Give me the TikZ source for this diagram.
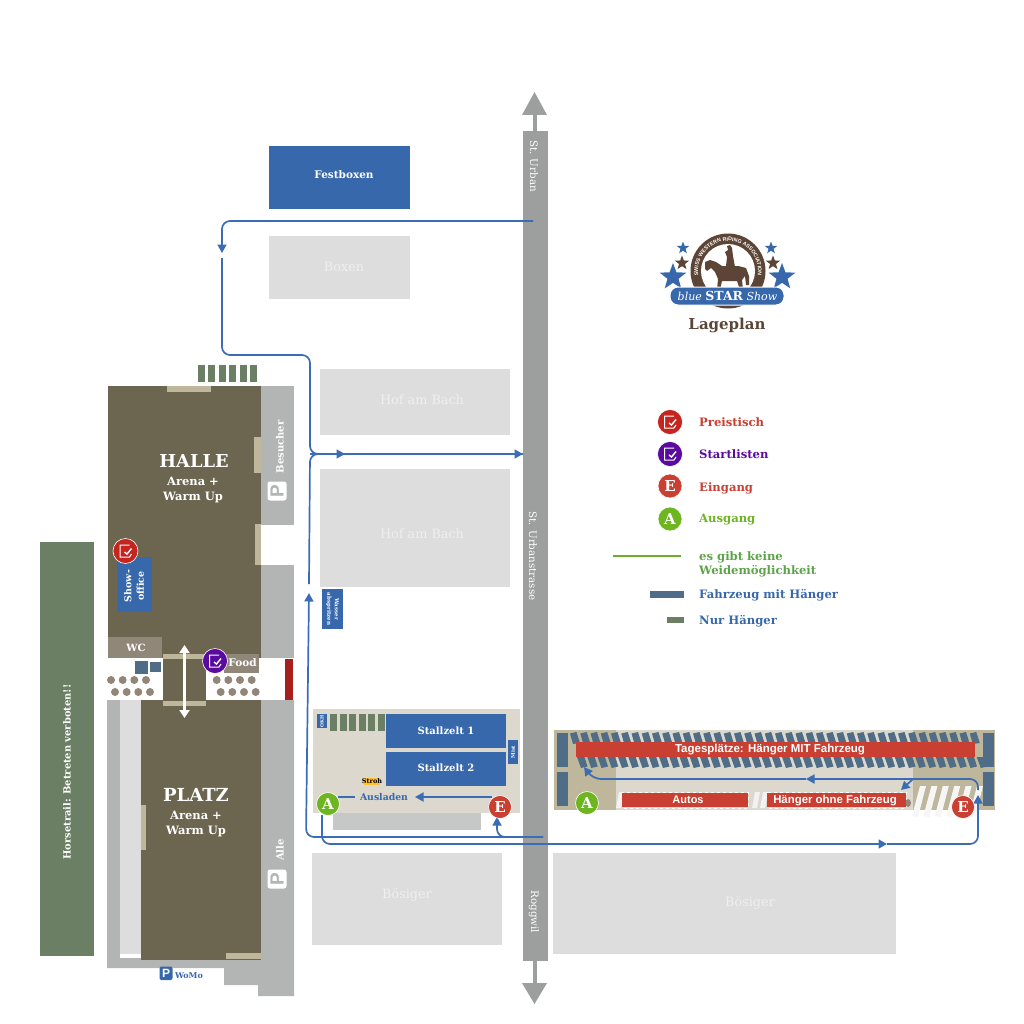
\documentclass[tikz,border=0pt]{standalone}
\usepackage{fontspec}
\usetikzlibrary{arrows.meta,shapes.geometric,decorations.text}
\setmainfont{DejaVu Serif}
\setsansfont{Liberation Sans}
\definecolor{cblue}{HTML}{3768AB}
\definecolor{cpale}{HTML}{DCDDDC}
\definecolor{cpaletxt}{HTML}{EEEFEE}
\definecolor{cbrown}{HTML}{6C6650}
\definecolor{cgray}{HTML}{B3B4B4}
\definecolor{croad}{HTML}{9D9E9E}
\definecolor{cbeige}{HTML}{BFB79B}
\definecolor{csand}{HTML}{DCD8CE}
\definecolor{ctaupe}{HTML}{918779}
\definecolor{cslate}{HTML}{4F6D86}
\definecolor{cgreen}{HTML}{6B7F64}
\definecolor{cred}{HTML}{C93F31}
\definecolor{cdred}{HTML}{C4251F}
\definecolor{cpurple}{HTML}{5B0A9E}
\definecolor{clime}{HTML}{6EB522}
\definecolor{cleg}{HTML}{5DA34A}
\definecolor{cdark}{HTML}{5C4536}
\definecolor{cline}{HTML}{3B6DB5}
\tikzset{
  route/.style={draw=cline,line width=1.7pt,rounded corners=8pt},
  tip/.style={-{Triangle[length=8.5pt,width=9pt]}},
  lab/.style={inner sep=0pt,align=center,font=\bfseries},
  wlab/.style={lab,text=white},
  pale/.style={text=cpaletxt,font=\normalfont},
  badge/.style={circle,inner sep=0pt,draw=white,line width=.6pt,text=white,font=\bfseries,minimum size=#1},
  leg/.style={anchor=west,inner sep=0pt,font=\bfseries\fontsize{11.6}{14.5}\selectfont,align=left},
  roadlab/.style={rotate=-90,text=white,font=\fontsize{10.3}{11}\selectfont},
}
\newcommand\bx[5]{\fill[#5] (#1,#2) rectangle (#3,#4);}
\newcommand\fs[1]{\fontsize{#1}{#1}\selectfont}
\newcommand\chk[2]{\begin{scope}[shift={(#1,#2)}]
 \draw[white,line width=1pt] (4,-6) -- (-5.5,-6) -- (-5.5,6) -- (4,6) -- (6,3);
 \draw[white,line width=1.4pt] (-1,1) -- (1.5,3) -- (6,-2.5);
 \end{scope}}
\newcommand\pk[2]{\fill[white,rounded corners=2.5pt] (#1-9.5,#2-9.5) rectangle (#1+9.5,#2+9.5);
 \node[rotate=90,text=cgray,inner sep=0pt,font=\sffamily\bfseries\fs{19}] at (#1,#2) {P};}
\begin{document}
\begin{tikzpicture}[x=1pt,y=-1pt]
\useasboundingbox (0,0) rectangle (1024,1024);
% road
\fill[croad] (523,131) rectangle (548,961);
\fill[croad] (533,115) rectangle (537,131);
\fill[croad] (533,961) rectangle (537,983);
\fill[croad] (522,115) -- (534.5,92) -- (547,115) -- cycle;
\fill[croad] (522,983) -- (534.5,1004) -- (547,983) -- cycle;
\node[roadlab] (t1) at (534,166) {St. Urban};
\node[roadlab] (t2) at (533,556) {St. Urbanstrasse};
\node[roadlab] (t3) at (534,912) {Roggwil};
% buildings right
\bx{269}{146}{410}{209}{cblue}
\bx{269}{236}{410}{299}{cpale}
\bx{320}{369}{510}{435}{cpale}
\bx{320}{469}{510}{587}{cpale}
\bx{312}{853}{502}{945}{cpale}
\bx{553}{853}{896}{954}{cpale}
\node[wlab,font=\bfseries\fs{10.5}] (n1) at (344,175) {Festboxen};
\node[pale,font=\fs{12.8}] (n2) at (344,267) {Boxen};
\node[pale,font=\fs{12.8}] (n3) at (422,400) {Hof am Bach};
\node[pale,font=\fs{12.8}] (n4) at (422,534) {Hof am Bach};
\node[pale,font=\fs{12.8}] (n5) at (407,895) {Bösiger};
\node[pale,font=\fs{12.8}] (n6) at (750,903) {Bösiger};
% horsetrail
\bx{40}{542}{94}{956}{cgreen}
\node[rotate=90,wlab,font=\bfseries\fs{9.9}] (n7) at (67,772) {Horsetrail: Betreten verboten!!};
% gray yards
\fill[cgray] (261,386) rectangle (294,525);
\fill[cgray] (261,565) rectangle (294,658);
\fill[cgray] (107,700) -- (141,700) -- (141,958) -- (261,958) -- (261,700) -- (294,700) -- (294,996) -- (258,996) -- (258,985) -- (224,985) -- (224,968) -- (107,968) -- cycle;
\bx{120}{700}{141}{958}{cpale}
\bx{120}{954}{141}{958}{white}
% halls
\bx{108}{386}{261}{658}{cbrown}
\bx{141}{700}{261}{960}{cbrown}
\bx{163}{654}{206}{706}{cbrown}
% beige
\bx{167}{386}{211}{392}{cbeige}
\bx{254}{437}{261}{473}{cbeige}
\bx{255}{524}{261}{565}{cbeige}
\bx{163}{654}{206}{659}{cbeige}
\bx{163}{701}{206}{706}{cbeige}
\bx{141}{805}{146}{850}{cbeige}
\bx{226}{953}{261}{959}{cbeige}
\bx{285}{659}{293}{700}{cdred!85!black}
% hall bars
\foreach \i in {0,...,5} \fill[cgreen] (198+10.4*\i,365) rectangle ++(7,17);
% hall texts
\node[wlab,font=\bfseries\fs{17.8}] (h1) at (194,461) {HALLE};
\node[wlab,font=\bfseries\fs{11.5}] (h2) at (193,481) {Arena +};
\node[wlab,font=\bfseries\fs{11.5}] (h3) at (193,497) {Warm Up};
\node[wlab,font=\bfseries\fs{18}] (p1) at (196,795) {PLATZ};
\node[wlab,font=\bfseries\fs{11.5}] (p2) at (196,815) {Arena +};
\node[wlab,font=\bfseries\fs{11.5}] (p3) at (196,831) {Warm Up};
\node[rotate=90,text=white,font=\bfseries\fs{10}] (b1) at (280,447) {Besucher};
\pk{277}{491}
\node[rotate=90,text=white,font=\bfseries\fs{10}] (b2) at (280,850) {Alle};
\pk{277}{879}
% show office
\bx{117}{557}{152}{612}{cblue}
\node[rotate=90,wlab,font=\bfseries\fs{9.5},align=center] (so) at (134,586) {Show-\\[3pt]office};
\node[badge=25pt,fill=cdred] (i1) at (125.5,551) {};
\chk{125.5}{551}
% WC area
\bx{108}{637}{162}{658}{ctaupe}
\node[wlab,font=\bfseries\fs{10}] (wc) at (136,647.5) {WC};
\bx{135}{661}{148}{674}{cslate}
\bx{150}{662}{161}{672}{cslate}
\bx{224}{654}{259}{673}{ctaupe}
\node[wlab,font=\bfseries\fs{10.5}] (fd) at (242.5,663) {Food};
\foreach \x in {111,122.7,134.3,146} \fill[ctaupe] (\x,680) circle (4);
\foreach \x in {115,126.7,138.3,150} \fill[ctaupe] (\x,692) circle (4);
\foreach \x in {216.7,228.3,240,251.7} \fill[ctaupe] (\x,680) circle (4);
\foreach \x in {220.7,232.3,244,255.7} \fill[ctaupe] (\x,692) circle (4);
\node[badge=25pt,fill=cpurple] (i2) at (215,661) {};
\chk{215}{661}
\coordinate (d1) at (184.5,645);
\coordinate (d2) at (184.5,718);
\draw[white,line width=2.2pt,{Triangle[length=8pt,width=10pt]}-{Triangle[length=8pt,width=10pt]}] (d1) -- (d2);
% WoMo
\fill[cblue,rounded corners=2pt] (159.5,966.5) rectangle (172.5,980);
\node[text=white,font=\sffamily\bfseries\fs{12}] (wp) at (166,973) {P};
\node[text=cblue,font=\bfseries\fs{8}] (wm) at (189,975.5) {WoMo};
% Wasser
\bx{322}{589}{343}{629}{cblue}
\node[rotate=-90,wlab,font=\bfseries\fs{5.5},align=center] (wa) at (332.5,609) {Wasser\\[2pt]abspritzen};
% Stall area
\bx{313}{709}{520}{813}{csand}
\bx{333}{813}{481}{830}{cgray!75!white}
\bx{386}{714}{506}{748}{cblue}
\bx{386}{752}{506}{786}{cblue}
\node[wlab,font=\bfseries\fs{10}] (s1) at (446,731) {Stallzelt 1};
\node[wlab,font=\bfseries\fs{10}] (s2) at (446,768) {Stallzelt 2};
\bx{508}{740}{518}{764}{cblue}
\node[rotate=90,wlab,font=\bfseries\fs{5}] (mi) at (513,752) {Mist};
\bx{317}{714}{327}{728}{cblue}
\node[rotate=90,wlab,font=\bfseries\fs{4.5}] (ok) at (322,721) {OKH};
\foreach \i in {0,...,5} \fill[cgreen] (330+9.6*\i,714) rectangle ++(7,17);
\bx{364}{778}{380}{785}{orange!60!yellow!80!white}
\node[text=black,font=\bfseries\fs{6.5}] (st) at (372,781.5) {Stroh};
\node[text=cblue,font=\bfseries\fs{9.3}] (au) at (384,797.5) {Ausladen};
% Tagesplaetze
\bx{554}{730}{995}{810}{csand}
\bx{554}{730}{616}{810}{cbeige}
\bx{913}{730}{995}{810}{cbeige}
\bx{557}{733}{568}{767}{cslate}
\bx{557}{772}{568}{806}{cslate}
\bx{983}{733}{994}{767}{cslate}
\bx{983}{772}{994}{806}{cslate}
\foreach \i in {0,...,39} {
 \fill[cslate] (570+10.25*\i,733.5) -- ++(6.5,-1.5) -- ++(3.5,11) -- ++(-7,1) -- cycle;
 \fill[cslate] (577+10.25*\i,757) -- ++(7.5,0) -- ++(3,9.5) -- ++(-6.5,1.5) -- cycle;
}
\bx{576}{742}{975}{757}{cred}
\node[text=white,font=\sffamily\bfseries\fs{11.5}] (tg) at (770,749.5) {Tagesplätze: Hänger MIT Fahrzeug};
\foreach \x in {616,752,760} \fill[white!90!gray] (\x,808) -- ++(3,-16) -- ++(5,0) -- ++(-3,16) -- cycle;
\foreach \i in {0,...,5} \fill[white!93!gray] (912+11.4*\i,816) -- ++(8,-30) -- ++(6,0) -- ++(-8,31) -- cycle;
\draw[white,dashed,line width=.6pt] (622,792) rectangle (748,808);
\draw[white,dashed,line width=.6pt] (767,792) rectangle (906,808);
\fill[ctaupe] (908,803) ellipse (3 and 4);
\bx{622}{793}{748}{807}{cred}
\bx{767}{793}{906}{807}{cred}
\node[text=white,font=\sffamily\bfseries\fs{11}] (at) at (688,800) {Autos};
\node[text=white,font=\sffamily\bfseries\fs{11.4}] (hg) at (835,800.5) {Hänger ohne Fahrzeug};
% routes
\coordinate (r0) at (533,221);
\coordinate (r1) at (222,253);
\coordinate (r2) at (222,258);
\coordinate (c1) at (310,355);
\coordinate (c2) at (310,454);
\coordinate (r3) at (345,454);
\coordinate (r4) at (523,454);
\coordinate (r5) at (309,593);
\coordinate (r5b) at (309,584);
\coordinate (c3) at (306,837);
\coordinate (r6) at (543,837);
\coordinate (r7) at (497,817);
\coordinate (r8) at (322,815);
\coordinate (c4) at (322,844);
\coordinate (r9) at (887,844);
\coordinate (c5) at (978,844);
\coordinate (r10) at (978,795);
\coordinate (r11) at (978,790);
\coordinate (c6) at (978,779);
\coordinate (r12) at (806,779);
\coordinate (c7) at (593,779);
\coordinate (r13) at (584,767);
\coordinate (r14) at (901,790);
\coordinate (r15) at (913,779);
\coordinate (r16) at (492,797);
\coordinate (r17) at (415,797);
\coordinate (r18) at (338,797);
\coordinate (r19) at (355,797);
\draw[route,tip] (r0) -| (r1);
\draw[route,tip] (r2) |- (c1) -- (c2) -- (r4);
\draw[route] (r5b) -- (c2) -- (r4);
\draw[cline,line width=1.7pt,tip] (c2) -- (r3);
\draw[route,tip] (r6) -- (c3) -- (r5);
\draw[route,tip] (r6) -| (r7);
\draw[route,tip] (r8) -- (c4) -- (r9);
\draw[route,tip] (r9) -- (c5) -- (r10);
\draw[route,tip] (r11) -- (c6) -- (r12);
\draw[route,tip] (r12) -- (c7) -- (r13);
\draw[route,tip,rounded corners=4pt] (r15) -- (r14);
\draw[route,tip] (r16) -- (r17);
\draw[route] (r18) -- (r19);
% badges
\node[badge=23pt,fill=clime,font=\bfseries\fs{15}] (a1) at (328,804) {A};
\node[badge=23pt,fill=cred,font=\bfseries\fs{15}] (e1) at (500,807) {E};
\node[badge=23pt,fill=clime,font=\bfseries\fs{15}] (a2) at (587,803) {A};
\node[badge=23pt,fill=cred,font=\bfseries\fs{15}] (e2) at (963,807) {E};
% legend
\node[badge=25pt,fill=cdred] (l1) at (670,422) {};
\chk{670}{422}
\node[badge=25pt,fill=cpurple] (l2) at (670,454) {};
\chk{670}{454}
\node[badge=24pt,fill=cred,font=\bfseries\fs{15}] (l3) at (670,486) {E};
\node[badge=24pt,fill=clime,font=\bfseries\fs{15}] (l4) at (670,519) {A};
\node[leg,text=cred] (lt1) at (699,422) {Preistisch};
\node[leg,text=cpurple] (lt2) at (699,454) {Startlisten};
\node[leg,text=cred] (lt3) at (699,488) {Eingang};
\node[leg,text=clime] (lt4) at (699,520) {Ausgang};
\coordinate (g1) at (613,556);
\coordinate (g2) at (681,556);
\draw[clime!85!cgreen,line width=1.4pt] (g1) -- (g2);
\node[leg,text=cleg] (lt5) at (699,564.5) {es gibt keine\\Weidemöglichkeit};
\bx{650}{591}{684}{598}{cslate}
\bx{667}{617}{684}{623}{cgreen}
\node[leg,text=cblue] (lt6) at (699,595) {Fahrzeug mit Hänger};
\node[leg,text=cblue] (lt7) at (699,621) {Nur Hänger};
% logo
\fill[white] (728,271) circle (39);
\fill[cdark] (728,271) circle (37.5);
\fill[white] (728,271) circle (27);
\begin{scope}[shift={(728,271)},y=1pt]
\path[postaction={decorate,decoration={text along path,text align=center,
  text={|\sffamily\bfseries\fontsize{5.3}{6}\selectfont\color{white}|SWISS WESTERN RIDING ASSOCIATION}}}]
  (207:30) arc[start angle=207,end angle=-27,radius=30];
\end{scope}
% horse
\fill[cdark] (705,262) -- (710,260) -- (716,262) -- (722,266) -- (738,266) -- (746,268) -- (749,276) -- (749,285) -- (746,285) -- (745,276) -- (742,280) -- (743,290) -- (740,290) -- (737,281) -- (722,281) -- (720,290) -- (717,290) -- (718,279) -- (715,272) -- (711,268) -- (707,271) -- (705,269) -- cycle;
\fill[cdark] (726,266) -- (727,257) -- (725,252) -- (728,250) -- (727,246) -- (730,245) -- (732,248) -- (733,256) -- (735,267) -- cycle;
\foreach \x/\y/\r/\c in {673/277/14/cblue,782/277/14/cblue,682/263/7.5/cdark,773/263/7.5/cdark,683/248/6.5/cblue,771/248/6.5/cblue}
  \node[star,star points=5,star point ratio=2.4,fill=\c,inner sep=0pt,minimum size=2*\r*1pt] at (\x,\y) {};
\fill[cblue,draw=white,line width=1pt,rounded corners=8pt] (670,287) rectangle (784,305);
\node[text=white,inner sep=0pt,font=\itshape\fs{11}] (lg) at (727.5,296) {blue {\normalfont\bfseries\fs{12.5}STAR} Show};
\node[text=cdark,font=\bfseries\fs{15}] (lp) at (727,325) {Lageplan};
\end{tikzpicture}
\end{document}
